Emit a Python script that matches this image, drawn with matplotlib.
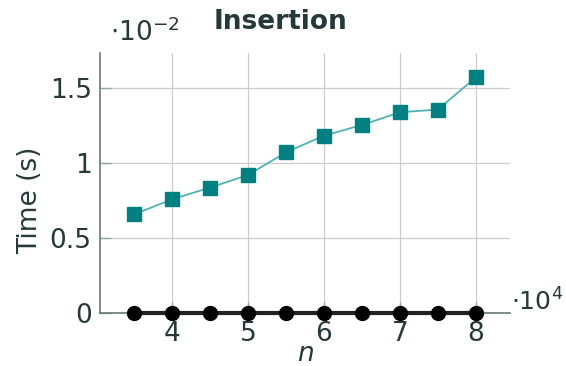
import matplotlib.pyplot as plt
from matplotlib.ticker import FixedLocator, FuncFormatter

# data (n in units of 1e4, time in units of 1e-2 s)
n = [3.5, 4, 4.5, 5, 5.5, 6, 6.5, 7, 7.5, 8]
time_insert = [0.658, 0.758, 0.836, 0.920, 1.071, 1.182, 1.253, 1.338, 1.356, 1.571]
time_other = [0, 0, 0, 0, 0, 0, 0, 0, 0, 0]
x_ticks = [4, 5, 6, 7, 8]
y_ticks = [0, 0.5, 1, 1.5]

txt = "#26383a"
plt.rcParams["font.family"] = ["DejaVu Sans"]
plt.rcParams["mathtext.fontset"] = "dejavusans"

fig = plt.figure(figsize=(5.66, 3.66), dpi=100)
ax = fig.add_axes([100 / 566, 1 - 313 / 366, 410 / 566, 260 / 366])

ax.plot(n, time_insert, color="#4fb3b3", lw=1.3, marker="s", ms=10,
        mfc="#008080", mec="#008080", zorder=3)
ax.plot(n, time_other, color="#222222", lw=3, marker="o", ms=10,
        mfc="black", mec="black", zorder=4, clip_on=False)

ax.set_xlim(3.05, 8.45)
ax.set_ylim(0, 1.733)
ax.xaxis.set_major_locator(FixedLocator(x_ticks))
ax.yaxis.set_major_locator(FixedLocator(y_ticks))
ax.yaxis.set_major_formatter(FuncFormatter(lambda v, p: f"{v:g}"))
ax.grid(True, color="#cccccc", lw=0.9)
ax.set_axisbelow(True)

for s in ["top", "right"]:
    ax.spines[s].set_visible(False)
for s in ["left", "bottom"]:
    ax.spines[s].set_color("#6a7878")
    ax.spines[s].set_linewidth(1.2)
ax.tick_params(direction="in", length=8, width=1, color="#9aa4a4",
               labelsize=19, labelcolor=txt, pad=6)

fig.text(281 / 566, 1 - 22 / 366, "Insertion", fontsize=19, fontweight="bold",
         color=txt, ha="center", va="center")
fig.text(30 / 566, 1 - 200 / 366, "Time (s)", fontsize=19, color=txt,
         rotation=90, ha="center", va="center")
fig.text(305 / 566, 1 - 354 / 366, "$n$", fontsize=19, color=txt,
         ha="center", va="center")

fig.text(110 / 566, 1 - 33 / 366, r"$\cdot10^{-2}$", fontsize=19, color=txt,
         va="center", ha="left")
fig.text(563 / 566, 1 - 302 / 366, r"$\cdot10^{4}$", fontsize=18, color=txt,
         va="center", ha="right")

fig.savefig("out.png", dpi=100)
